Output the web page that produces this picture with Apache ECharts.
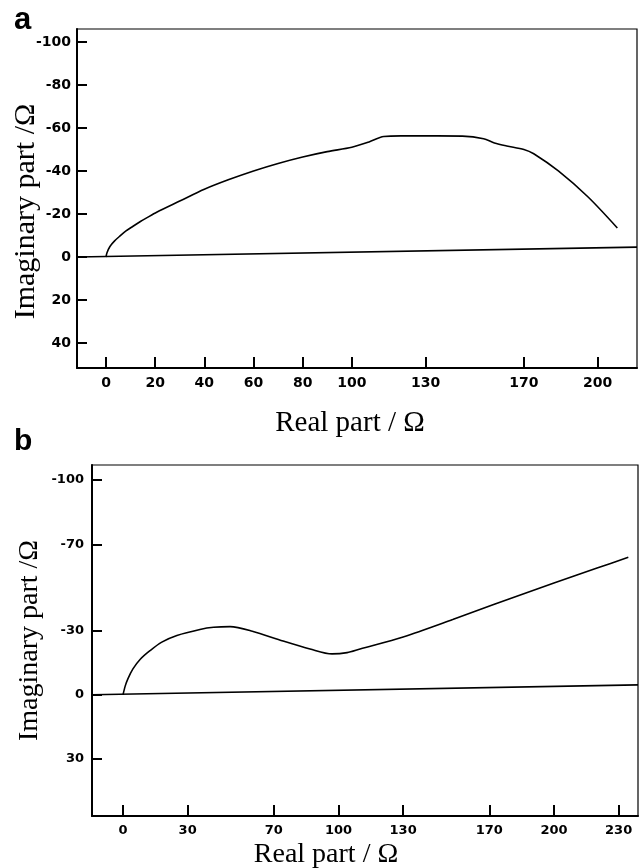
<!DOCTYPE html>
<html>
<head>
<meta charset="utf-8">
<script src="https://cdn.jsdelivr.net/npm/echarts@6/dist/echarts.min.js"></script>
<style>
html,body{margin:0;padding:0;background:#fff;}
#chart{width:644px;height:868px;}
</style>
</head>
<body>
<div id="chart"></div>
<script>
// Panel a
var xTicksA = [0, 20, 40, 60, 80, 100, 130, 170, 200];
var yTicksA = [-100, -80, -60, -40, -20, 0, 20, 40];
var curveA = [[0,0],[0.4,-2],[1.6,-4.9],[3.5,-7.5],[5.7,-9.8],[8,-12],[11,-14.3],[14,-16.5],[16.7,-18.3],[20.6,-20.8],[30,-26],[40,-31.5],[50,-36],[60,-40],[70,-43.5],[80,-46.5],[90,-49],[100,-51],[107,-53.5],[113,-56],[120,-56.3],[135,-56.3],[145,-56.2],[153.6,-55],[158,-53],[163,-51.6],[170,-50],[174,-48],[184,-40],[196,-28],[208,-13.5]];
var zeroA = [[-11.8,0],[216,-4.6]];
// Panel b
var xTicksB = [0, 30, 70, 100, 130, 170, 200, 230];
var yTicksB = [-100, -70, -30, 0, 30];
var curveB = [[0,0],[1,-4],[2.3,-7.5],[4.6,-12],[8,-16.5],[12.5,-20.5],[18,-24.5],[25,-27.6],[35.7,-30.4],[42,-31.4],[49.7,-31.7],[60,-29.6],[74.3,-25],[86.8,-21.3],[97,-19],[104,-19.6],[110,-21.3],[130,-26.9],[153,-35],[172,-42],[200,-52],[220,-59],[234.5,-64]];
var zeroB = [[-14.4,0],[239,-4.6]];

var chart = echarts.init(document.getElementById('chart'), null, {renderer:'canvas'});

function xAxis(idx, min, max, ticks, fs, tfs, gap, shift){
  return {
    type:'value', gridIndex:idx, min:min, max:max,
    name:'Real part / \u03A9', nameLocation:'middle', nameGap:gap,
    nameTextStyle:{fontFamily:'Liberation Serif', fontSize:tfs, color:'#000', padding:[0, shift, 0, 0]},
    axisLine:{show:true, onZero:false, lineStyle:{color:'#000', width:2}},
    axisTick:{show:true, inside:true, length:11, lineStyle:{color:'#000', width:2}, customValues:ticks},
    axisLabel:{margin:8, customValues:ticks, fontFamily:'DejaVu Sans', fontWeight:'bold', fontSize:fs, color:'#000'},
    splitLine:{show:false}
  };
}
function yAxis(idx, min, max, ticks, fs, tfs, gap, shift, lmargin){
  return {
    type:'value', gridIndex:idx, min:min, max:max, inverse:true,
    name:'Imaginary part /\u03A9', nameLocation:'middle', nameGap:gap, nameMoveOverlap:false,
    nameTextStyle:{fontFamily:'Liberation Serif', fontSize:tfs, color:'#000', padding:[0, shift, 0, 0]},
    axisLine:{show:true, onZero:false, lineStyle:{color:'#000', width:2}},
    axisTick:{show:true, inside:true, length:10, lineStyle:{color:'#000', width:2}, customValues:ticks},
    axisLabel:{margin:lmargin, customValues:ticks, fontFamily:'DejaVu Sans', fontWeight:'bold', fontSize:fs, color:'#000'},
    splitLine:{show:false}
  };
}

chart.setOption({
  animation:false,
  backgroundColor:'#fff',
  grid:[
    {left:77, top:29, width:560, height:339, containLabel:false, outerBoundsMode:'none', show:true, borderColor:'#000', borderWidth:1.2, backgroundColor:'transparent'},
    {left:92, top:465, width:546, height:351, containLabel:false, outerBoundsMode:'none', show:true, borderColor:'#000', borderWidth:1.2, backgroundColor:'transparent'}
  ],
  xAxis:[ xAxis(0, -11.8, 216, xTicksA, 14, 29, 41, 14), xAxis(1, -14.4, 239, xTicksB, 13, 28, 25, 78) ],
  yAxis:[ yAxis(0, -106, 51.6, yTicksA, 14, 30, 36, 26, 6), yAxis(1, -107, 56.5, yTicksB, 13, 28, 48, 0, 8) ],
  graphic:[
    {type:'text', left:14, top:5, style:{text:'a', font:'bold 31px Liberation Sans', fill:'#000'}},
    {type:'text', left:14, top:427, style:{text:'b', font:'bold 30px Liberation Sans', fill:'#000'}}
  ],
  series:[
    {type:'line', xAxisIndex:0, yAxisIndex:0, data:curveA, smooth:0.3, showSymbol:false, lineStyle:{color:'#000', width:1.6}},
    {type:'line', xAxisIndex:0, yAxisIndex:0, data:zeroA, showSymbol:false, lineStyle:{color:'#000', width:1.6}},
    {type:'line', xAxisIndex:1, yAxisIndex:1, data:curveB, smooth:0.3, showSymbol:false, lineStyle:{color:'#000', width:1.6}},
    {type:'line', xAxisIndex:1, yAxisIndex:1, data:zeroB, showSymbol:false, lineStyle:{color:'#000', width:1.6}}
  ]
});
</script>
</body>
</html>
